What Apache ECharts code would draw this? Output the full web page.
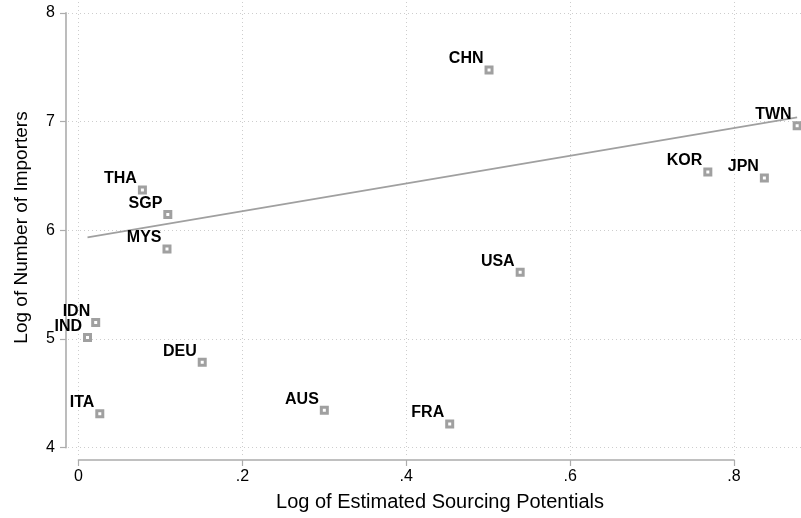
<!DOCTYPE html>
<html>
<head>
<meta charset="utf-8">
<script src="https://cdn.jsdelivr.net/npm/echarts@6/dist/echarts.min.js"></script>
<style>html,body{margin:0;padding:0;background:#fff;}#chart{width:801px;height:518px;}</style>
</head>
<body>
<div id="chart"></div>
<script>
var countries = ['CHN','TWN','KOR','JPN','THA','SGP','MYS','USA','IDN','IND','DEU','ITA','AUS','FRA'];
var sourcingPotential = [0.501,0.877,0.768,0.837,0.078,0.109,0.108,0.539,0.021,0.011,0.151,0.026,0.300,0.453];
var numImporters = [7.475,6.961,6.537,6.482,6.371,6.145,5.828,5.613,5.152,5.014,4.786,4.313,4.344,4.218];
var fitX = [0.011, 0.877];
var fitY = [5.935, 7.039];
var xTicks = [0, 0.2, 0.4, 0.6, 0.8];
var xTickLabels = ['0', '.2', '.4', '.6', '.8'];
var yTicks = [4, 5, 6, 7, 8];
var yTickLabels = ['4', '5', '6', '7', '8'];

var FONT = 'Liberation Sans, Arial, Helvetica, sans-serif';
var AXIS_GRAY = '#acacac';
var MARK_GRAY = '#a0a0a0';

var chart = echarts.init(document.getElementById('chart'), null, {renderer: 'canvas'});

var points = countries.map(function (c, i) { return [sourcingPotential[i], numImporters[i], c]; });
var fitLine = fitX.map(function (x, i) { return [x, fitY[i]]; });

var gridLines = [];
xTicks.forEach(function (v) { gridLines.push({xAxis: v}); });
yTicks.forEach(function (v) { gridLines.push({yAxis: v}); });

var option = {
  backgroundColor: '#fff',
  animation: false,
  textStyle: {fontFamily: FONT},
  grid: [
    {left: 68, right: 0, top: 0, bottom: 63},
    {left: 78.5, width: 655.5, top: 0, bottom: 58},
    {left: 66, width: 10, top: 12.9, height: 434.8}
  ],
  xAxis: [
    {
      gridIndex: 0, type: 'value', min: -0.0128, max: 0.8817,
      axisLine: {show: false}, axisTick: {show: false}, axisLabel: {show: false}, splitLine: {show: false},
      name: 'Log of Estimated Sourcing Potentials', nameLocation: 'middle', nameGap: 37,
      nameTextStyle: {fontSize: 20, color: '#000', fontFamily: FONT, padding: [0, 0, 0, 11]}
    },
    {
      gridIndex: 1, type: 'value', min: 0, max: 0.8, interval: 0.2,
      axisLine: {show: true, lineStyle: {color: AXIS_GRAY, width: 1.6}},
      axisTick: {show: true, inside: false, length: 6, lineStyle: {color: AXIS_GRAY, width: 1.2}},
      axisLabel: {show: true, margin: 9, fontSize: 16, color: '#000', fontFamily: FONT,
        formatter: function (v) { var i = xTicks.findIndex(function (t) { return Math.abs(t - v) < 1e-9; }); return i >= 0 ? xTickLabels[i] : ''; }},
      splitLine: {show: false}
    },
    {gridIndex: 2, type: 'value', show: false, min: 0, max: 1}
  ],
  yAxis: [
    {
      gridIndex: 0, type: 'value', min: 3.9328, max: 8.1187,
      axisLine: {show: false}, axisTick: {show: false}, axisLabel: {show: false}, splitLine: {show: false},
      name: 'Log of Number of Importers', nameLocation: 'middle', nameGap: 37, nameRotate: 90,
      nameTextStyle: {fontSize: 19, color: '#000', fontFamily: FONT}
    },
    {gridIndex: 1, type: 'value', show: false, min: 0, max: 1},
    {
      gridIndex: 2, type: 'value', min: 4, max: 8, interval: 1,
      axisLine: {show: true, lineStyle: {color: AXIS_GRAY, width: 1.6}},
      axisTick: {show: true, inside: false, length: 6, lineStyle: {color: AXIS_GRAY, width: 1.2}},
      axisLabel: {show: true, margin: 11, fontSize: 16, color: '#000', fontFamily: FONT,
        formatter: function (v) { var i = yTicks.indexOf(v); return i >= 0 ? yTickLabels[i] : ''; }},
      splitLine: {show: false}
    }
  ],
  series: [
    {
      type: 'line', xAxisIndex: 0, yAxisIndex: 0, data: fitLine,
      showSymbol: false, symbol: 'none', silent: true, z: 3,
      lineStyle: {color: MARK_GRAY, width: 1.6},
      markLine: {
        silent: true, symbol: ['none', 'none'], label: {show: false},
        lineStyle: {color: '#cdcdcd', width: 1, type: [1, 3]},
        data: gridLines, z: 1
      }
    },
    {
      type: 'scatter', xAxisIndex: 0, yAxisIndex: 0, data: points, z: 5,
      symbol: 'rect', symbolSize: 6,
      itemStyle: {color: '#fff', borderColor: MARK_GRAY, borderWidth: 3, opacity: 1},
      label: {
        show: true, position: [-1, -6.5], align: 'right', verticalAlign: 'middle',
        formatter: function (p) { return p.data[2]; },
        fontSize: 16, fontWeight: 'bold', color: '#000', fontFamily: FONT
      }
    }
  ]
};
chart.setOption(option);
</script>
</body>
</html>
